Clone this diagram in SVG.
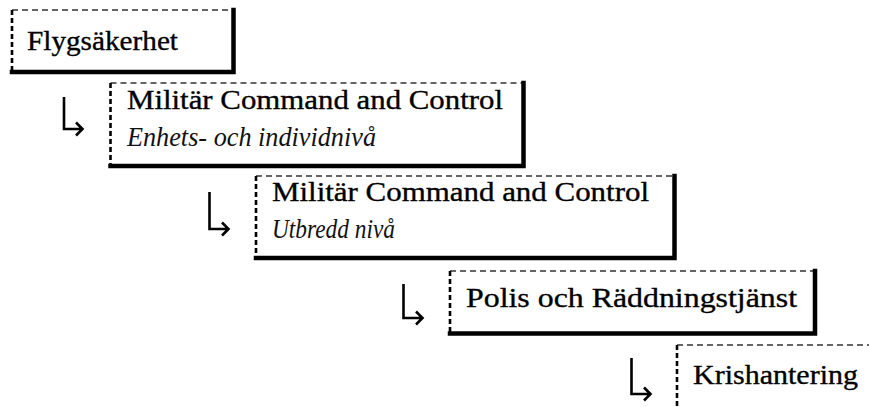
<svg xmlns="http://www.w3.org/2000/svg" width="869" height="407" viewBox="0 0 869 407">
<style>
.dt{stroke:#333;stroke-width:1.4;stroke-dasharray:6 4;fill:none}
.dl{stroke:#000;stroke-width:2.6;stroke-dasharray:5 3;fill:none}
.sd{stroke:#000;stroke-width:4.5;fill:none;stroke-linecap:square}
.t{font-family:"Liberation Serif","Times New Roman",serif;font-size:28px;fill:#000;stroke:#000;stroke-width:0.35}
.i{font-family:"Liberation Serif","Times New Roman",serif;font-size:27px;font-style:italic;fill:#111}
.arr{stroke:#000;stroke-width:2.6;fill:none;stroke-linejoin:miter}
</style>
<rect width="869" height="407" fill="#fff"/>
<g id="node1">
<path class="dt" d="M12 10H233"/>
<path class="dl" d="M12 10V71"/>
<path class="sd" d="M233.5 10V72H12"/>
<text class="t" x="27" y="50" textLength="151" lengthAdjust="spacingAndGlyphs">Flygsäkerhet</text>
</g>
<g id="node2">
<path class="dt" d="M110.5 83H523"/>
<path class="dl" d="M110.5 83V165"/>
<path class="sd" d="M523.5 83V166H110.5"/>
<text class="t" x="127" y="109" textLength="376" lengthAdjust="spacingAndGlyphs">Militär Command and Control</text>
<text class="i" x="127" y="146" textLength="249" lengthAdjust="spacingAndGlyphs">Enhets- och individnivå</text>
</g>
<g id="node3">
<path class="dt" d="M256 176H674"/>
<path class="dl" d="M256 176V257"/>
<path class="sd" d="M674.5 176V258H256"/>
<text class="t" x="272" y="201" textLength="377" lengthAdjust="spacingAndGlyphs">Militär Command and Control</text>
<text class="i" x="272" y="238" textLength="123" lengthAdjust="spacingAndGlyphs">Utbredd nivå</text>
</g>
<g id="node4">
<path class="dt" d="M450 271H815"/>
<path class="dl" d="M450 271V332"/>
<path class="sd" d="M815 271V333.5H450"/>
<text class="t" x="466" y="307" textLength="331" lengthAdjust="spacingAndGlyphs">Polis och Räddningstjänst</text>
</g>
<g id="node5">
<path class="dt" d="M677 345H869"/>
<path class="dl" d="M677 345V407"/>
<text class="t" x="693" y="384" textLength="165" lengthAdjust="spacingAndGlyphs">Krishantering</text>
</g>
<g id="connectors">
<path class="arr" d="M64 97V129H82M76 122.5L82.5 129L76 135.5"/>
<path class="arr" d="M209.5 192V229H228M222 222.5L228.5 229L222 235.5"/>
<path class="arr" d="M403.5 284V318H422M416 311.5L422.5 318L416 324.5"/>
<path class="arr" d="M631.5 358V394H650M644 387.5L650.5 394L644 400.5"/>
</g>
</svg>
